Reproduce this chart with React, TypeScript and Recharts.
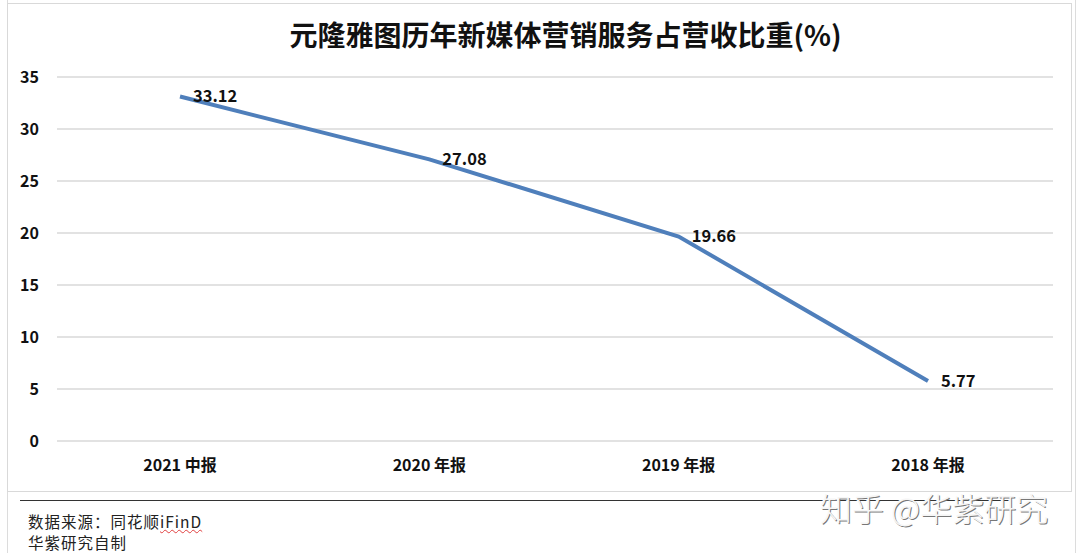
import React from "react";
import {
  LineChart,
  Line,
  XAxis,
  YAxis,
  CartesianGrid,
  LabelList,
} from "recharts";

// 报告期
const periods = ["2021 中报", "2020 年报", "2019 年报", "2018 年报"];
// 新媒体营销服务占营收比重(%)
const shareValues = [33.12, 27.08, 19.66, 5.77];
const yTicks = [0, 5, 10, 15, 20, 25, 30, 35];

const chartData = periods.map((period, i) => ({
  period,
  share: shareValues[i],
}));

const FONT = '"Noto Sans CJK SC", "Open Sans", sans-serif';

const App: React.FC = () => {
  return (
    <div
      style={{
        position: "absolute",
        left: 0,
        top: 0,
        width: 1080,
        height: 553,
        background: "#fff",
        fontFamily: FONT,
        overflow: "hidden",
      }}
    >
      {/* 页面边框 */}
      <div style={{ position: "absolute", left: 7, top: 0, width: 1, height: 553, background: "#dcdcdc" }} />
      <div style={{ position: "absolute", left: 1075, top: 0, width: 1, height: 553, background: "#dcdcdc" }} />

      {/* 图表框 */}
      <div
        style={{
          position: "absolute",
          left: 7,
          top: 3,
          width: 1063,
          height: 487,
          border: "1px solid #d9d9d9",
          background: "#fff",
        }}
      >
        <div
          style={{
            position: "absolute",
            left: 0,
            top: 10,
            width: 1115,
            textAlign: "center",
            fontSize: 28,
            fontWeight: 700,
            color: "#111",
            whiteSpace: "nowrap",
          }}
        >
          元隆雅图历年新媒体营销服务占营收比重(%)
        </div>
        <LineChart
          width={1063}
          height={487}
          data={chartData}
          margin={{ top: 73, right: 18, left: 0, bottom: 20 }}
        >
          <CartesianGrid vertical={false} stroke="#d9d9d9" strokeWidth={1.5} />
          <XAxis
            dataKey="period"
            axisLine={false}
            tickLine={false}
            tickSize={0}
            tickMargin={19}
            height={30}
            padding={{ left: 123, right: 125 }}
            tick={{ fill: "#111", fontSize: 16, fontWeight: 700, fontFamily: FONT }}
          />
          <YAxis
            domain={[0, 35]}
            ticks={yTicks}
            axisLine={false}
            tickLine={false}
            tickSize={0}
            tickMargin={18}
            width={49}
            tick={{ fill: "#111", fontSize: 16, fontWeight: 700, fontFamily: FONT }}
          />
          <Line
            type="linear"
            dataKey="share"
            stroke="#4f7fbb"
            strokeWidth={4}
            dot={false}
            isAnimationActive={false}
          >
            <LabelList
              dataKey="share"
              position="right"
              offset={13}
              fill="#111"
              fontSize={16.5}
              fontWeight={700}
              fontFamily={FONT}
              formatter={(v: number) => v.toFixed(2)}
            />
          </Line>
        </LineChart>
      </div>

      {/* 分隔线 */}
      <div style={{ position: "absolute", left: 20, top: 500, width: 990, height: 1, background: "#333" }} />

      {/* 数据来源 */}
      <div
        style={{
          position: "absolute",
          left: 28,
          top: 511,
          fontSize: 15.5,
          letterSpacing: 1,
          lineHeight: "21px",
          color: "#222",
        }}
      >
        <div>
          数据来源：同花顺
          <span style={{ textDecoration: "underline wavy #e04040", textDecorationThickness: 1 }}>iFinD</span>
        </div>
        <div>华紫研究自制</div>
      </div>

      {/* 水印 */}
      <div
        style={{
          position: "absolute",
          left: 820,
          top: 484,
          fontSize: 32,
          fontWeight: 300,
          color: "#f6f6f6",
          textShadow: "1px 1px 0 #777, -1px 0 0 #fff",
          whiteSpace: "nowrap",
        }}
      >
        知乎 @华紫研究
      </div>
    </div>
  );
};

export default App;
